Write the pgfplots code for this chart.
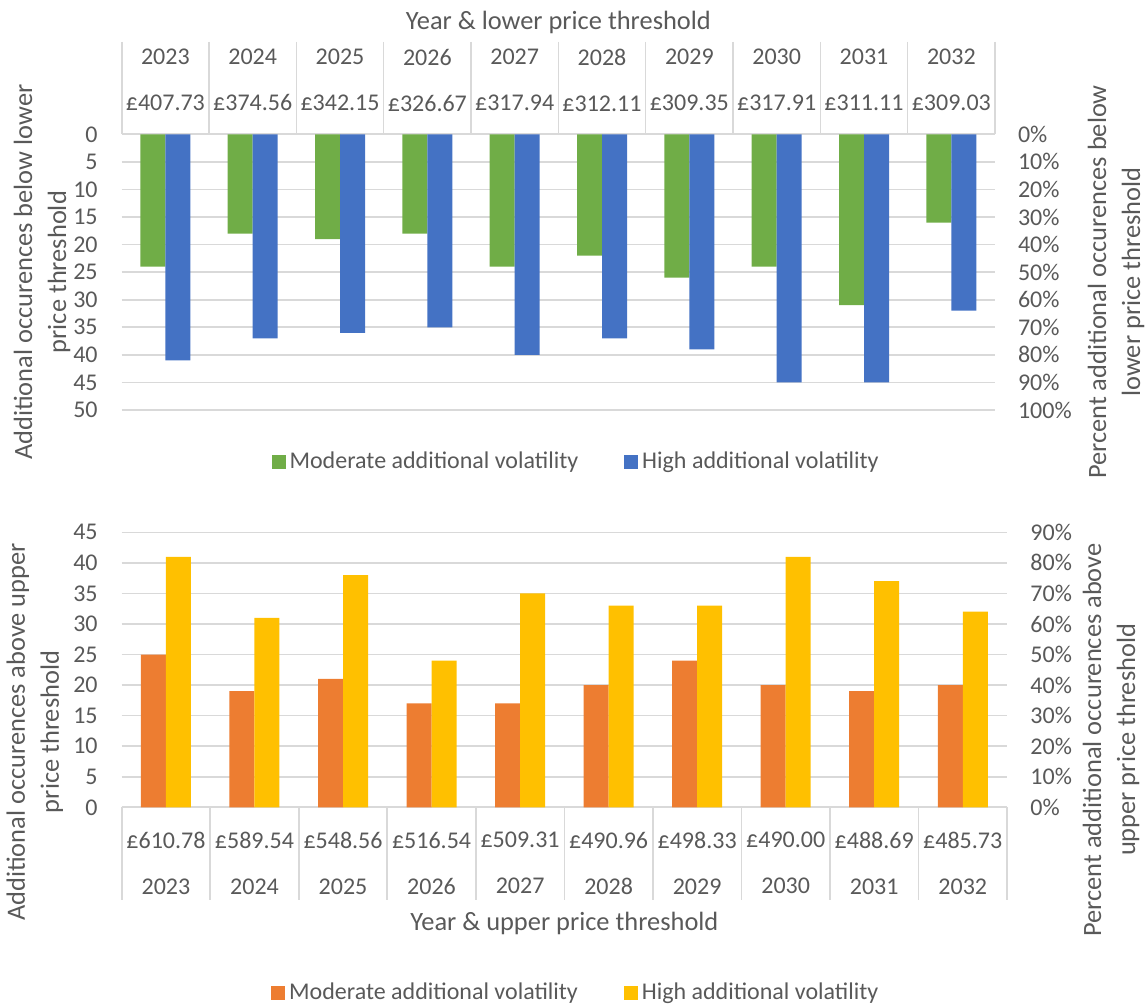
\documentclass[border=0pt]{standalone}
\usepackage{pgfplots}
\pgfplotsset{compat=1.18}
\usepackage{fontspec}
\setmainfont{Carlito}
\definecolor{txt}{HTML}{595959}
\definecolor{gridc}{HTML}{D9D9D9}
\definecolor{cgreen}{HTML}{70AD47}
\definecolor{cblue}{HTML}{4472C4}
\definecolor{corange}{HTML}{ED7D31}
\definecolor{cyellow}{HTML}{FFC000}
\pgfplotsset{
  common/.style={
    scale only axis,
    xmin=-0.5, xmax=9.5,
    enlargelimits=false,
    axis line style={draw=none},
    ytick style={draw=none},
    major tick length=0pt,
    /pgf/number format/assume math mode=true,
    font=\fontsize{12}{14}\selectfont,
    every tick label/.append style={text=txt},
    label style={text=txt},
    legend style={draw=none, fill=none, text=txt, font=\fontsize{12}{14}\selectfont,
      /tikz/every even column/.append style={column sep=21pt}},
    legend columns=2,
  },
  leftaxis/.style={
    common,
    ymajorgrids, grid style={gridc, line width=0.8pt},
    yticklabel style={anchor=east, inner sep=0pt, xshift=-11.85pt},
    xtick={0,...,9},
    extra x ticks={-0.5,0.5,...,9.5},
    extra x tick labels={},
    extra x tick style={major tick length=46.2pt, tick align=outside,
      tick style={draw=gridc, line width=0.8pt}, xmajorgrids=false},
    ybar=0pt, bar width=12.5pt,
    legend image code/.code={\fill[##1] (0pt,-3.5pt) rectangle (7pt,3.5pt);},
    ylabel style={align=center, inner sep=0pt, font=\fontsize{13.2}{17}\selectfont},
    xlabel style={font=\fontsize{13.2}{16}\selectfont},
    xticklabel style={align=center, anchor=center, font=\fontsize{12}{23}\selectfont},
  },
  rightaxis/.style={
    common,
    axis x line=none,
    axis y line*=right,
    xtick=\empty,
    yticklabel={\pgfmathprintnumber{\tick}\%},
    yticklabel style={anchor=west, inner sep=0pt},
    ylabel style={align=center, inner sep=0pt, font=\fontsize{13.2}{17}\selectfont},
  },
}
\begin{document}
\begin{tikzpicture}
\path[use as bounding box] (0,0) rectangle (573.5pt,503.5pt);
% ---------------- top panel ----------------
\begin{axis}[leftaxis,
  at={(60.85pt,298.5pt)}, anchor=south west,
  width=436.65pt, height=137.85pt,
  ymin=0, ymax=50, ytick={0,5,...,50}, y dir=reverse,
  xtick pos=upper, xticklabel pos=upper,
  xticklabels={{2023\\£407.73},{2024\\£374.56},{2025\\£342.15},{2026\\£326.67},{2027\\£317.94},{2028\\£312.11},{2029\\£309.35},{2030\\£317.91},{2031\\£311.11},{2032\\£309.03}},
  xticklabel style={yshift=27.1pt},
  xlabel={Year \& lower price threshold},
  xlabel style={at={(axis description cs:0.5,1.407)}, anchor=center},
  ylabel={Additional occurences below lower\\price threshold},
  ylabel style={at={(axis description cs:-0.0913,0.5)}, anchor=center},
  legend style={at={(0.5215,-0.1886)}, anchor=center},
]
\addplot[fill=cgreen, draw=none] coordinates {(0,24)(1,18)(2,19)(3,18)(4,24)(5,22)(6,26)(7,24)(8,31)(9,16)};
\addplot[fill=cblue, draw=none] coordinates {(0,41)(1,37)(2,36)(3,35)(4,40)(5,37)(6,39)(7,45)(8,45)(9,32)};
\legend{Moderate additional volatility, High additional volatility}
\end{axis}
\begin{axis}[rightaxis,
  at={(60.85pt,298.5pt)}, anchor=south west,
  width=436.65pt, height=137.85pt,
  ymin=0, ymax=100, ytick={0,10,...,100}, y dir=reverse,
  yticklabel style={xshift=11.3pt},
  ylabel={Percent additional occurences below\\lower price threshold},
  ylabel style={at={(axis description cs:1.1385,0.464)}, anchor=center},
]
\end{axis}
% ---------------- bottom panel ----------------
\begin{axis}[leftaxis,
  at={(60.85pt,99.85pt)}, anchor=south west,
  width=442.65pt, height=137.5pt,
  ymin=0, ymax=45, ytick={0,5,...,45},
  xtick pos=lower, xticklabel pos=lower,
  xticklabels={{£610.78\\2023},{£589.54\\2024},{£548.56\\2025},{£516.54\\2026},{£509.31\\2027},{£490.96\\2028},{£498.33\\2029},{£490.00\\2030},{£488.69\\2031},{£485.73\\2032}},
  xticklabel style={yshift=-27.9pt},
  extra x tick style={major tick length=46.35pt},
  xlabel={Year \& upper price threshold},
  xlabel style={at={(axis description cs:0.5,-0.4207)}, anchor=center},
  ylabel={Additional occurences above upper\\price threshold},
  ylabel style={at={(axis description cs:-0.098,0.274)}, anchor=center},
  legend style={at={(0.514,-0.675)}, anchor=center},
]
\addplot[fill=corange, draw=none] coordinates {(0,25)(1,19)(2,21)(3,17)(4,17)(5,20)(6,24)(7,20)(8,19)(9,20)};
\addplot[fill=cyellow, draw=none] coordinates {(0,41)(1,31)(2,38)(3,24)(4,35)(5,33)(6,33)(7,41)(8,37)(9,32)};
\legend{Moderate additional volatility, High additional volatility}
\end{axis}
\begin{axis}[rightaxis,
  at={(60.85pt,99.85pt)}, anchor=south west,
  width=442.65pt, height=137.5pt,
  ymin=0, ymax=90, ytick={0,10,...,90},
  yticklabel style={xshift=11.5pt},
  ylabel={Percent additional occurences above\\upper price threshold},
  ylabel style={at={(axis description cs:1.1175,0.245)}, anchor=center},
]
\end{axis}
\end{tikzpicture}
\end{document}
